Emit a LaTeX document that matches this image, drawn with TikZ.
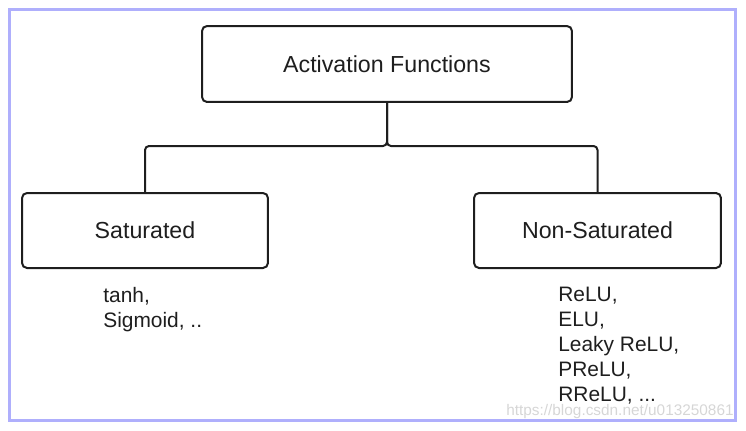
\documentclass[tikz,border=0pt]{standalone}
\usepackage{fontspec}
\setmainfont{Liberation Sans}

\definecolor{framecol}{HTML}{AFAFFC}
\definecolor{inkcol}{HTML}{1E1E1E}
\definecolor{markcol}{HTML}{D6D6D6}

\begin{document}
\begin{tikzpicture}[x = 0.02cm, y = -0.02cm,
	box/.style = {draw = inkcol, line width = 0.04cm, rounded corners = 0.1cm,
		inner sep = 0pt, text = inkcol, font = \fontsize{13.2}{15}\selectfont},
	link/.style = {draw = inkcol, line width = 0.04cm, rounded corners = 0.08cm},
	list/.style = {anchor = west, align = left, inner sep = 0pt, text = inkcol,
		font = \fontsize{11.9}{14.2}\selectfont}]

	% Definitions

	\def\H{146}		% Height of the branching line

	% Canvas and frame

	\useasboundingbox (0, 0) rectangle (746, 430);
	\draw [framecol, line width = 0.06cm] (9.5, 9.5) rectangle (735.5, 420.5);

	% Boxes

	\node [box, minimum width = 7.4cm, minimum height = 1.52cm] (act) at (387, 64) {Activation Functions};
	\node [box, minimum width = 4.92cm, minimum height = 1.5cm] (sat) at (145, 230.5) {Saturated};
	\node [box, minimum width = 4.94cm, minimum height = 1.5cm] (nonsat) at (597.5, 230.5) {Non-Saturated};

	% Branches

	\draw [link] (act.south) -- (387, \H) -| (sat.north);
	\draw [link] (act.south) -- (387, \H) -| (nonsat.north);

	% Examples under each box

	\node [list] (satlist) at (103, 310) {tanh,\\Sigmoid, ..};
	\node [list] (nonsatlist) at (558, 346) {ReLU,\\ELU,\\Leaky ReLU,\\PReLU,\\RReLU, ...};

	% Watermark

	\node [anchor = east, inner sep = 0pt, text = markcol, font = \fontsize{8.75}{10}\selectfont]
		(mark) at (734, 412) {https://blog.csdn.net/u013250861};

\end{tikzpicture}
\end{document}
